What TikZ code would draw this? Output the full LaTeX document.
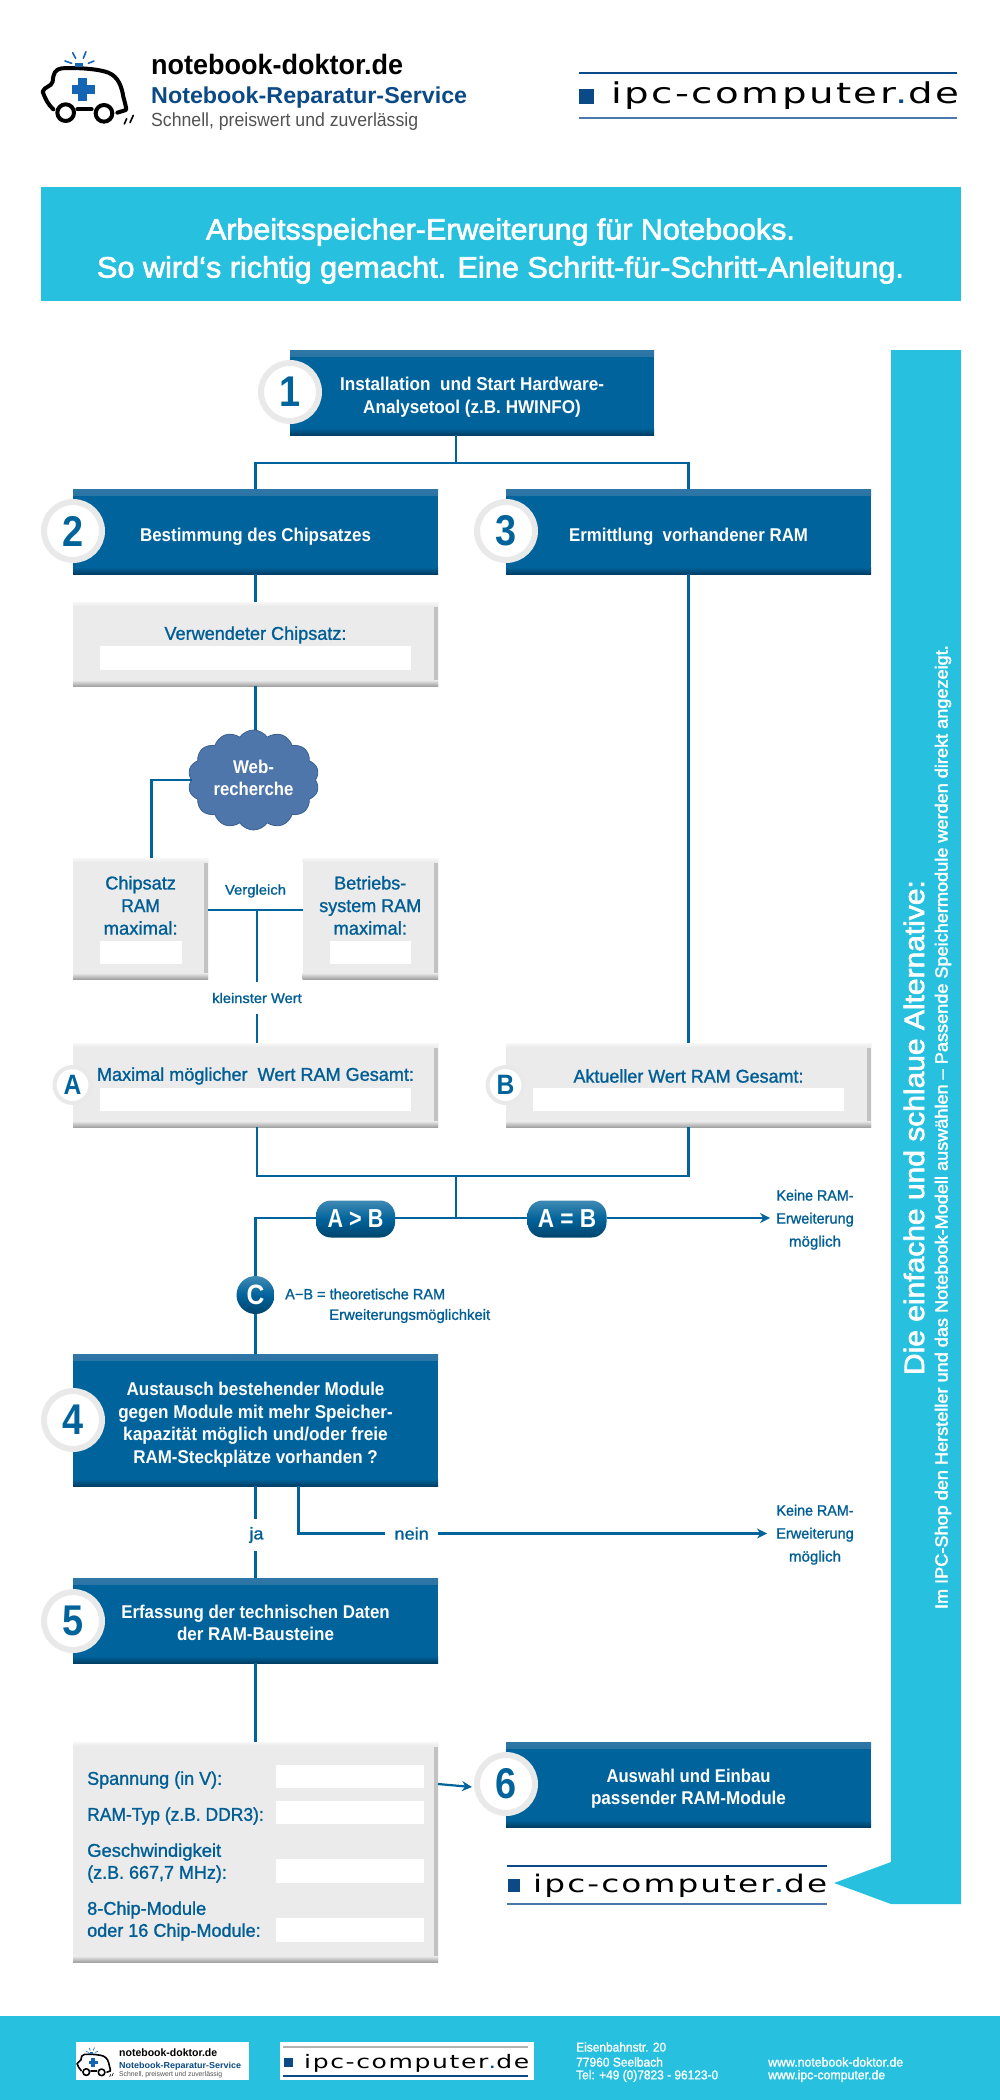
\documentclass[tikz,border=0pt]{standalone}
\usepackage{fontspec}
\usepackage{graphicx}
\setmainfont{Liberation Sans}
\newfontfamily\medf[FakeBold=1.2]{Liberation Sans}
\newfontfamily\headf[FakeBold=2.2]{Liberation Sans}
\newfontfamily\numf[FakeStretch=0.88]{Liberation Sans}
\newfontfamily\ipcf[LetterSpace=9,FakeStretch=1.4]{DejaVu Sans}
\usetikzlibrary{arrows.meta,shapes.symbols}
\definecolor{boxblue}{HTML}{00639B}
\definecolor{boxtop}{HTML}{2E76A6}
\definecolor{boxbot}{HTML}{003F66}
\definecolor{txtblue}{HTML}{005E95}
\definecolor{ringgray}{HTML}{E9E9E9}
\definecolor{panel}{HTML}{EBEBEB}
\definecolor{cyanbar}{HTML}{27C1DF}
\definecolor{logoblue}{HTML}{0B4A86}
\definecolor{logolite}{HTML}{4A78AA}
\definecolor{crossblue}{HTML}{1565B5}
\definecolor{cloudfill}{HTML}{4E76AA}
\definecolor{cloudline}{HTML}{3A6090}
\newsavebox\fwbox
\newcommand\fw[2]{\sbox\fwbox{#2}\pgfmathsetmacro\fwr{#1/\the\wd\fwbox}\scalebox{\fwr}[1]{#2}}
\newcommand\dn[2][5pt]{\raisebox{-#1}[\height][\depth]{\begin{tabular}{@{}c@{}}#2\end{tabular}}}
\newcommand\boxf{\bfseries\fontsize{18.5}{22.6}\selectfont}
\newcommand\labf{\medf\fontsize{18.5}{22.6}\selectfont}
\newcommand\smallf{\medf\fontsize{15}{23}\selectfont}
\newcommand\footf{\medf\fontsize{12.8}{14.5}\selectfont}
\newcommand\ipctext[2]{{\ipcf\fontsize{#1}{#1}\selectfont\fw{#2}{ipc-computer{\color{logoblue}.}de}}}
\newcommand\ambulance[4]{%
\begin{scope}[shift={(#1,#2)},x={#3*0.3333pt},y={-#3*0.3333pt},line cap=round,line join=round]
\draw[line width=#4,black] (100,238) .. controls (85,225) and (75,205) .. (68,185) .. controls (72,170) and (95,170) .. (98,155) .. controls (100,130) and (105,118) .. (125,115) .. controls (180,112) and (240,118) .. (265,128) .. controls (295,140) and (305,170) .. (310,200) .. controls (315,220) and (320,235) .. (318,240) -- (292,248);
\draw[line width=#4,black] (172,238) -- (215,238);
\draw[line width=#4,black] (137,248) circle [radius=25];
\draw[line width=#4,black] (252,250) circle [radius=25];
\fill[crossblue] (175,145) rectangle (200,212);
\fill[crossblue] (155,166) rectangle (225,191);
\fill[crossblue] (165,98) rectangle (190,110);
\draw[line width=0.4*#4,crossblue] (135,93) -- (155,100) (158,68) -- (167,85) (198,65) -- (190,85) (205,100) -- (222,93);
\draw[line width=0.4*#4,black] (313,282) -- (320,266) (330,278) -- (340,256);
\end{scope}}
\tikzset{
 conn/.style={draw=boxblue,line width=2.2pt},
 arr/.style={conn,-{Stealth[length=10pt,width=10pt]}},
 bluebox/.style={rectangle,fill=boxblue,inner sep=0pt,outer sep=0pt,text=white,font=\boxf,
  path picture={
   \shade[top color=boxtop,bottom color=boxblue] (path picture bounding box.north west) rectangle ([yshift=-6pt]path picture bounding box.north east);
   \shade[top color=boxblue,bottom color=boxbot] ([yshift=7pt]path picture bounding box.south west) rectangle (path picture bounding box.south east);}},
 graybox/.style={rectangle,fill=panel,inner sep=0pt,outer sep=0pt,
  path picture={
   \shade[left color=panel,right color=black!24] ([xshift=-4pt]path picture bounding box.south east) rectangle (path picture bounding box.north east);
   \shade[top color=white!60!panel,bottom color=panel] (path picture bounding box.north west) rectangle ([yshift=-4pt]path picture bounding box.north east);
   \shade[top color=panel,bottom color=black!36] ([yshift=6pt]path picture bounding box.south west) rectangle (path picture bounding box.south east);}},
 field/.style={rectangle,fill=white,inner sep=0pt,outer sep=0pt},
 bignum/.style={circle,draw=ringgray,line width=6pt,fill=white,minimum size=58pt,inner sep=0pt,outer sep=3pt,text=boxblue,font=\numf\bfseries\fontsize{43}{43}\selectfont},
 letnum/.style={circle,draw=ringgray,line width=4pt,fill=white,minimum size=36pt,inner sep=0pt,outer sep=2pt,text=boxblue,font=\numf\bfseries\fontsize{28}{28}\selectfont},
 pill/.style={rectangle,rounded corners=15pt,top color=boxblue!75!white,bottom color=boxblue!70!black,middle color=boxblue,inner sep=0pt,minimum width=79pt,minimum height=37pt,text=white,font=\bfseries\fontsize{26}{26}\selectfont},
 lab/.style={inner sep=0pt,text=txtblue,font=\labf,align=center},
 llab/.style={inner sep=0pt,text=txtblue,font=\labf,anchor=west},
 small/.style={inner sep=0pt,text=txtblue,font=\smallf},
 foot/.style={inner sep=0pt,text=white,font=\footf,anchor=west},
 logotxt/.style={inner sep=0pt,anchor=west},
}
\begin{document}
\begin{tikzpicture}[x=1pt,y=-1pt]
\useasboundingbox (0,0) rectangle (1000,2100);

% header logos
\ambulance{20}{30}{1}{4pt}
\node[logotxt,font=\bfseries\fontsize{28}{28}\selectfont,text=black] (h1) at (151,64) {\fw{252}{notebook-doktor.de}};
\node[logotxt,font=\bfseries\fontsize{23}{23}\selectfont,text=logoblue] (h2) at (151,98) {\fw{316}{Notebook-Reparatur-Service}};
\node[logotxt,font=\fontsize{19}{19}\selectfont,text=black!68] (h3) at (151,122) {\fw{267}{Schnell, preiswert und zuverlässig}};
\draw[logoblue,line width=1.5pt] (579,73) -- (957,73);
\draw[logolite,line width=1.5pt] (579,118) -- (957,118);
\fill[logoblue] (579,89) rectangle (594,104);
\node[logotxt] (h4) at (611,96) {\ipctext{28.7}{348}};

% title banner
\node[rectangle,fill=cyanbar,inner sep=0pt,minimum width=920pt,minimum height=114pt,text=white,font=\headf\fontsize{29.5}{38}\selectfont] (banner) at (500.5,244)
 {\dn[7pt]{\fw{589}{Arbeitsspeicher-Erweiterung für Notebooks.}\\\fw{807}{So wird‘s richtig gemacht. Eine Schritt-für-Schritt-Anleitung.}}};

% sidebar
\fill[cyanbar] (891,350) -- (961,350) -- (961,1904) -- (891,1904) -- (834,1883) -- (891,1862) -- cycle;
\node[rotate=90,inner sep=0pt,text=white,font=\headf\fontsize{28}{28}\selectfont] (side1) at (914,1127.5) {\fw{495}{Die einfache und schlaue Alternative:}};
\node[rotate=90,inner sep=0pt,text=white,font=\headf\fontsize{17.5}{17.5}\selectfont] (side2) at (943,1127) {\fw{964}{Im IPC-Shop den Hersteller und das Notebook-Modell auswählen – Passende Speichermodule werden direkt angezeigt.}};

% boxes
\node[bluebox,minimum width=364pt,minimum height=85pt] (b1) at (472,392.5) {\dn{\fw{264}{Installation\ \ und Start Hardware-}\\\fw{217.6}{Analysetool (z.B. HWINFO)}}};
\node[bluebox,minimum width=365pt,minimum height=85pt] (b2) at (255.5,531.5) {\dn{\fw{231}{Bestimmung des Chipsatzes}}};
\node[bluebox,minimum width=365pt,minimum height=85pt] (b3) at (688.5,531.5) {\dn{\fw{239}{Ermittlung\ \ vorhandener RAM}}};

\node[graybox,minimum width=365pt,minimum height=84pt] (g1) at (255.5,644) {};
\node[field,minimum width=311pt,minimum height=24pt] (g1f) at (255.5,658) {};
\node[lab] (g1t) at (255.5,635) {\fw{182}{Verwendeter Chipsatz:}};

\node[cloud,cloud puffs=14,cloud puff arc=110,aspect=1.3,fill=cloudfill,draw=cloudline,line width=0.8pt,minimum width=131pt,minimum height=100pt,inner sep=0pt,outer sep=0pt,text=white,font=\boxf] (web) at (253.5,780) {\dn[0pt]{\fw{41}{Web-}\\\fw{80}{recherche}}};

\node[graybox,minimum width=135pt,minimum height=121pt] (chip) at (140.5,918.5) {};
\node[field,minimum width=81.5pt,minimum height=23pt] (chipf) at (140.75,952.5) {};
\node[lab] (chipt) at (140.6,907.5) {\begin{tabular}{@{}c@{}}\fw{70.6}{Chipsatz}\\\fw{38.5}{RAM}\\\fw{74}{maximal:}\end{tabular}};
\node[graybox,minimum width=135.5pt,minimum height=121pt] (os) at (370.25,918.5) {};
\node[field,minimum width=81.5pt,minimum height=23pt] (osf) at (370.25,952.5) {};
\node[lab] (ost) at (370.25,907.5) {\begin{tabular}{@{}c@{}}\fw{72}{Betriebs-}\\\fw{102}{system RAM}\\\fw{73.5}{maximal:}\end{tabular}};
\node[small,font=\medf\fontsize{14}{16}\selectfont] (vg) at (255.5,891) {\fw{61}{Vergleich}};
\coordinate (vc) at (257,910);
\coordinate (webdrop) at (151.5,858);
\node[small,font=\medf\fontsize{14}{16}\selectfont,inner sep=11pt] (kw) at (257,998) {\fw{89.5}{kleinster Wert}};

\node[graybox,minimum width=365pt,minimum height=84pt] (ga) at (255.5,1085) {};
\node[field,minimum width=311pt,minimum height=23pt] (gaf) at (255.5,1099.5) {};
\node[lab] (gat) at (255.5,1076) {\fw{317}{Maximal möglicher\ \ Wert RAM Gesamt:}};
\node[graybox,minimum width=365pt,minimum height=84pt] (gb) at (688.5,1085) {};
\node[field,minimum width=311pt,minimum height=23pt] (gbf) at (688.5,1099.5) {};
\node[lab] (gbt) at (688.5,1076) {\fw{230}{Aktueller Wert RAM Gesamt:}};

\coordinate (j0) at (456,463);
\coordinate (j1) at (456,1176);
\coordinate (j2) at (456,1218);
\node[pill] (ab) at (355.5,1219) {\fw{55.7}{A > B}};
\node[pill] (ae) at (567,1219) {\fw{58.5}{A = B}};
\node[small,inner xsep=6pt,align=center] (kr1) at (815,1219) {\begin{tabular}{@{}c@{}}\fw{77}{Keine RAM-}\\\fw{77.5}{Erweiterung}\\\fw{52}{möglich}\end{tabular}};
\node[circle,minimum size=38pt,inner sep=0pt,outer sep=0pt,top color=boxblue!75!white,bottom color=boxblue!70!black,middle color=boxblue,text=white,font=\numf\bfseries\fontsize{28}{28}\selectfont] (cc) at (255.5,1295) {C};
\node[small,anchor=west] (cc1) at (285,1294) {\fw{160}{A−B = theoretische RAM}};
\node[small,anchor=west] (cc2) at (329,1316) {\fw{161}{Erweiterungsmöglichkeit}};

\node[bluebox,minimum width=365pt,minimum height=132pt] (b4) at (255.5,1420) {\dn{\fw{258}{Austausch bestehender Module}\\\fw{274.4}{gegen Module mit mehr Speicher-}\\\fw{264.6}{kapazität möglich und/oder freie}\\\fw{244.5}{RAM-Steckplätze vorhanden ?}}};
\node[inner sep=0pt,inner ysep=8pt,text=txtblue,font=\medf\fontsize{17}{20}\selectfont] (ja) at (256.5,1535) {\fw{14}{ja}};
\node[inner xsep=9pt,inner ysep=0pt,text=txtblue,font=\medf\fontsize{17}{20}\selectfont] (nein) at (411.6,1533.5) {\fw{34.4}{nein}};
\node[small,inner xsep=9pt,align=center] (kr2) at (815,1534) {\begin{tabular}{@{}c@{}}\fw{77}{Keine RAM-}\\\fw{77.5}{Erweiterung}\\\fw{52}{möglich}\end{tabular}};

\node[bluebox,minimum width=365pt,minimum height=85pt] (b5) at (255.5,1620.5) {\dn[4.5pt]{\fw{268.5}{Erfassung der technischen Daten}\\\fw{157}{der RAM-Bausteine}}};

\node[graybox,minimum width=365pt,minimum height=220pt] (data) at (255.5,1852) {};
\node[field,minimum width=148pt,minimum height=23.5pt] (d1) at (350,1776.5) {};
\node[field,minimum width=148pt,minimum height=23.5pt] (d2) at (350,1812.5) {};
\node[field,minimum width=148pt,minimum height=23.5pt] (d3) at (350,1871) {};
\node[field,minimum width=148pt,minimum height=23.5pt] (d4) at (350,1930) {};
\node[llab] (t1) at (87,1780) {\fw{135}{Spannung (in V):}};
\node[llab] (t2) at (87,1816) {\fw{176.6}{RAM-Typ (z.B. DDR3):}};
\node[llab] (t3) at (87,1852) {\fw{134}{Geschwindigkeit}};
\node[llab] (t4) at (87,1874) {\fw{139.7}{(z.B. 667,7 MHz):}};
\node[llab] (t5) at (87,1910) {\fw{119}{8-Chip-Module}};
\node[llab] (t6) at (87,1932) {\fw{173.5}{oder 16 Chip-Module:}};

\node[bluebox,minimum width=365pt,minimum height=85pt] (b6) at (688.5,1784.5) {\dn[4.5pt]{\fw{164}{Auswahl und Einbau}\\\fw{195}{passender RAM-Module}}};

% number circles
\node[bignum] (n1) at (290,392) {1};
\node[bignum] (n2) at (73,531) {2};
\node[bignum] (n3) at (506,531) {3};
\node[bignum] (n4) at (73,1420) {4};
\node[bignum] (n5) at (73,1621) {5};
\node[bignum] (n6) at (506,1784) {6};
\node[letnum] (na) at (72.5,1085) {A};
\node[letnum] (nb) at (505.5,1085) {B};

% connectors
\draw[conn] (j0 |- b1.south) -- (j0);
\draw[conn] (b2.north) |- (j0) -| (b3.north);
\draw[conn] (b2.south) -- (g1.north);
\draw[conn] (g1.south) -- (g1.south |- web.north);
\draw[conn] (web.west) -| (webdrop);
\draw[conn] (chip.east |- vc) -- (os.west |- vc);
\draw[conn] (vc) -- (kw.north);
\draw[conn] (kw.south) -- (kw |- ga.north);
\draw[conn] (b3.south) -- (gb.north);
\draw[conn] (kw |- ga.south) |- (j1) -| (gb.south);
\draw[conn] (j1) -- (j2);
\draw[conn] (ab.west |- j2) -| (cc.north);
\draw[conn] (ab.east |- j2) -- (ae.west |- j2);
\draw[arr] (ae.east |- j2) -- (kr1.west |- j2);
\draw[conn] (cc.south) -- (b4.north);
\draw[conn] (b4.south) -- (ja.north -| b4.south);
\draw[conn] (ja.south -| b4.south) -- (b5.north);
\draw[conn] (298.5,1486) |- (nein.west);
\draw[arr] (nein.east) -- (nein.east -| kr2.west);
\draw[conn] (b5.south) -- (data.north);
\draw[arr] (data.east |- n6.west) -- (472,1787);

% lower logo
\draw[logoblue,line width=1.5pt] (507,1866) -- (827,1866);
\draw[logolite,line width=1.5pt] (507,1904) -- (827,1904);
\fill[logoblue] (507.6,1879) rectangle (520,1892);
\node[logotxt] (l1) at (533,1886) {\ipctext{24.25}{294}};

% footer
\fill[cyanbar] (0,2016) rectangle (1000,2100);
\fill[white] (76,2042) rectangle (249,2080);
\ambulance{68}{2039}{0.4}{1.6pt}
\node[logotxt,font=\bfseries\fontsize{10.7}{10.7}\selectfont,text=black] (f1) at (119,2053) {\fw{98}{notebook-doktor.de}};
\node[logotxt,font=\bfseries\fontsize{8.7}{8.7}\selectfont,text=logoblue] (f2) at (119,2066) {\fw{122}{Notebook-Reparatur-Service}};
\node[logotxt,font=\fontsize{7}{7}\selectfont,text=black!68] (f3) at (119,2075) {\fw{103}{Schnell, preiswert und zuverlässig}};
\fill[white] (280,2042) rectangle (534,2080);
\draw[black!30,line width=2.5pt] (283,2047) -- (528,2047);
\draw[logoblue,line width=1.5pt] (283,2076) -- (528,2076);
\fill[logoblue] (284,2058) rectangle (293,2067);
\node[logotxt] (f4) at (304,2063.5) {\ipctext{18.6}{225}};
\node[foot] (a1) at (576,2047) {\fw{90}{Eisenbahnstr. 20}};
\node[foot] (a2) at (576,2062) {\fw{86.7}{77960 Seelbach}};
\node[foot] (a3) at (576,2076) {\fw{142}{Tel: +49 (0)7823 - 96123-0}};
\node[foot] (w1) at (768,2062) {\fw{135}{www.notebook-doktor.de}};
\node[foot] (w2) at (768,2076) {\fw{117}{www.ipc-computer.de}};
\end{tikzpicture}
\end{document}
